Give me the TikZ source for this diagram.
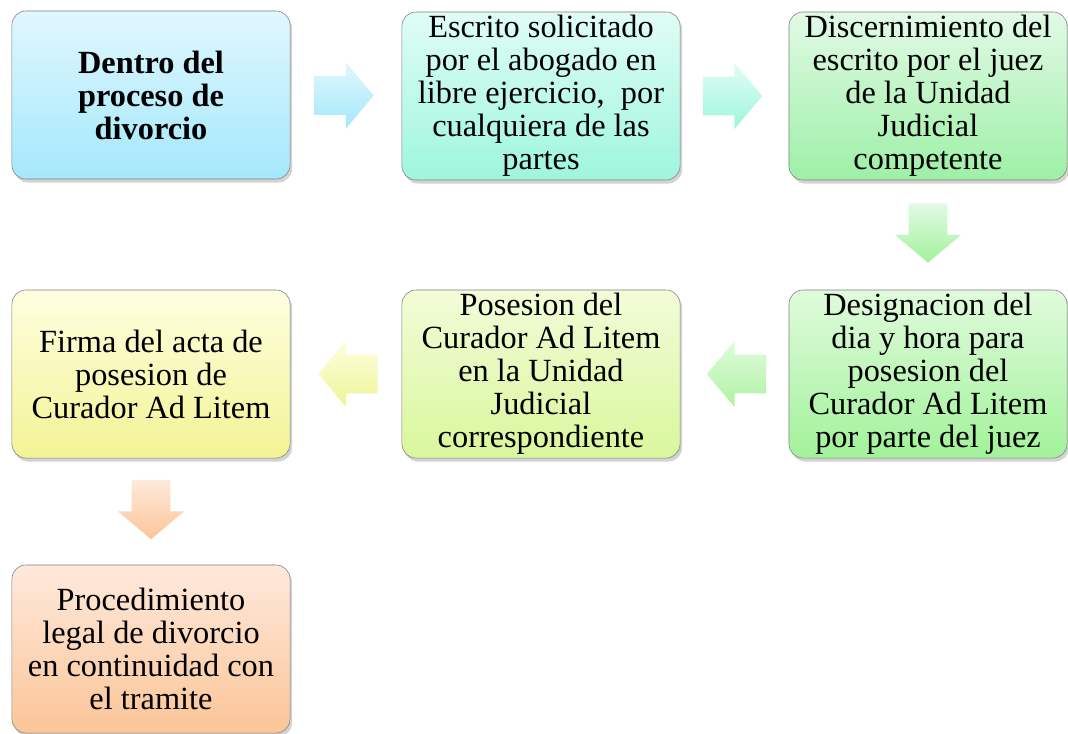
\documentclass[tikz,border=0pt]{standalone}
\usepackage{fontspec}
\setmainfont{Liberation Serif}
\usetikzlibrary{shapes,arrows,positioning,shadows,calc}

\definecolor{cyanTop}{HTML}{E0F7FE}
\definecolor{cyanBot}{HTML}{A4E8FB}
\definecolor{aquaTop}{HTML}{E0FDF6}
\definecolor{aquaBot}{HTML}{9EF6DC}
\definecolor{mintTop}{HTML}{E2FAE6}
\definecolor{mintBot}{HTML}{9DF0A6}
\definecolor{greenTop}{HTML}{E0FBDC}
\definecolor{greenBot}{HTML}{A2F29A}
\definecolor{limeTop}{HTML}{F2FCD8}
\definecolor{limeBot}{HTML}{D9F79C}
\definecolor{yellowTop}{HTML}{FEFEE0}
\definecolor{yellowBot}{HTML}{F3F495}
\definecolor{orangeTop}{HTML}{FEE9DC}
\definecolor{orangeBot}{HTML}{FBC597}

\begin{document}
\begin{tikzpicture}
				[
					x=0.025cm, y=-0.025cm,
					stepbox/.style 2 args={rectangle, rounded corners=0.35cm, draw=black!50, thin, top color=#1, bottom color=#2, minimum width=6.95cm, minimum height=4.2cm, inner sep=2pt, align=center, font=\fontsize{23}{23.5}\selectfont, drop shadow={opacity=0.35, shadow xshift=1.5pt, shadow yshift=-2.5pt}},
					arrowbase/.style 2 args={single arrow, draw=none, top color=#1, bottom color=#2, minimum height=1.48cm, single arrow head extend=0.35cm, single arrow tip angle=100, inner xsep=0pt, inner ysep=0.475cm},
					rightarrow/.style 2 args={arrowbase={#1}{#2}, xshift=-0.25cm},
					leftarrow/.style 2 args={arrowbase={#1}{#2}, shape border rotate=180, xshift=0.25cm},
					downarrow/.style 2 args={arrowbase={#1}{#2}, shape border rotate=270, inner xsep=0.475cm, inner ysep=0pt, yshift=0.25cm},
				]
				\useasboundingbox (0,0) rectangle (1068,733);

				\node [stepbox={cyanTop}{cyanBot}] (dentro) at (151,95) {\textbf{Dentro del}\\\textbf{proceso de}\\\textbf{divorcio}};
				\node [stepbox={aquaTop}{aquaBot}] (escrito) at (541,96) {Escrito solicitado\\por el abogado en\\libre ejercicio,~ por\\cualquiera de las\\partes};
				\node [stepbox={mintTop}{mintBot}] (discern) at (928,96) {Discernimiento del\\escrito por el juez\\de la Unidad\\Judicial\\competente};
				\node [stepbox={greenTop}{greenBot}] (designa) at (928,374) {Designacion del\\dia y hora para\\posesion del\\Curador Ad Litem\\por parte del juez};
				\node [stepbox={limeTop}{limeBot}] (posesion) at (541,374) {Posesion del\\Curador Ad Litem\\en la Unidad\\Judicial\\correspondiente};
				\node [stepbox={yellowTop}{yellowBot}] (firma) at (151,374) {Firma del acta de\\posesion de\\Curador Ad Litem};
				\node [stepbox={orangeTop}{orangeBot}] (proced) at (151,649) {Procedimiento\\legal de divorcio\\en continuidad con\\el tramite};

				\node [rightarrow={cyanTop}{cyanBot}] (a1) at ($(dentro)!0.5!(escrito)$) {};
				\node [rightarrow={aquaTop}{aquaBot}] (a2) at ($(escrito)!0.5!(discern)$) {};
				\node [downarrow={mintTop}{greenBot}] (a3) at ($(discern)!0.5!(designa)$) {};
				\node [leftarrow={greenTop}{mintBot!70!limeBot}] (a4) at ($(designa)!0.5!(posesion)$) {};
				\node [leftarrow={yellowTop}{yellowBot!80!limeBot}] (a5) at ($(posesion)!0.5!(firma)$) {};
				\node [downarrow={orangeTop}{orangeBot}] (a6) at ($(firma)!0.5!(proced)$) {};

			\end{tikzpicture}
\end{document}
